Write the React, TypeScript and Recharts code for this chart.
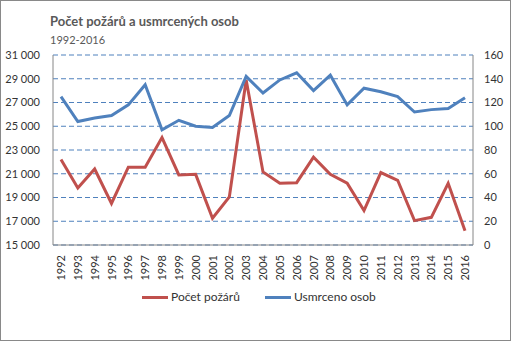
import React from 'react';
import { LineChart, Line, XAxis, YAxis, CartesianGrid, Legend } from 'recharts';

const years = ['1992','1993','1994','1995','1996','1997','1998','1999','2000','2001','2002','2003','2004','2005','2006','2007','2008','2009','2010','2011','2012','2013','2014','2015','2016'];
const pozary = [22200, 19800, 21400, 18500, 21550, 21550, 24050, 20900, 20950, 17250, 19050, 28900, 21150, 20200, 20250, 22400, 20950, 20200, 17900, 21100, 20450, 17050, 17330, 20200, 16200];
const usmrceno = [125, 104, 107, 109, 118, 135, 97, 105, 100, 99, 109, 142, 128, 139, 145, 130, 143, 118, 132, 129, 125, 112, 114, 115, 124];
const leftTicks = [15000, 17000, 19000, 21000, 23000, 25000, 27000, 29000, 31000];
const rightTicks = [0, 20, 40, 60, 80, 100, 120, 140, 160];
const seriesNames = ['Počet požárů', 'Usmrceno osob'];
const title = 'Počet požárů a usmrcených osob';
const subtitle = '1992-2016';

const data = years.map((y, i) => ({ year: y, pozary: pozary[i], usmrceno: usmrceno[i] }));

const RED = '#C0504D';
const BLUE = '#4F81BD';
const AXIS = '#868686';
const FONT = 'Lato, "Open Sans", sans-serif';

const fmt = (v: number) => String(v).replace(/\B(?=(\d{3})+(?!\d))/g, ' ');

const XTick = (props: any) => {
  const { x, y, payload } = props;
  const tx = x + 4;
  const ty = y + 2;
  return (
    <text x={tx} y={ty} transform={`rotate(-90, ${tx}, ${ty})`} textAnchor="end" fontSize={11} fill="#333" fontFamily={FONT}>
      {payload.value}
    </text>
  );
};

const LegendContent = () => (
  <div style={{ position: 'relative', width: 511, height: 20, fontFamily: FONT, fontSize: 12, color: '#333' }}>
    <div style={{ position: 'absolute', left: 142, top: 8, width: 26, height: 3, background: RED }} />
    <div style={{ position: 'absolute', left: 171, top: 1, lineHeight: '16px', whiteSpace: 'nowrap' }}>{seriesNames[0]}</div>
    <div style={{ position: 'absolute', left: 265, top: 8, width: 26, height: 3, background: BLUE }} />
    <div style={{ position: 'absolute', left: 294, top: 1, lineHeight: '16px', whiteSpace: 'nowrap' }}>{seriesNames[1]}</div>
  </div>
);

export default function App() {
  return (
    <div style={{ position: 'fixed', left: 0, top: 0, width: 511, height: 341, boxSizing: 'border-box', border: '1px solid #898989', background: '#fff', overflow: 'hidden' }}>
      <div style={{ position: 'absolute', left: -1, top: -1, width: 511, height: 341 }}>
        <LineChart width={511} height={341} data={data} margin={{ top: 55, right: 0, bottom: 0, left: 0 }}>
          <CartesianGrid yAxisId="left" vertical={false} horizontal={true} stroke={BLUE} strokeDasharray="5 3" strokeWidth={1} />
          <XAxis dataKey="year" interval={0} padding={{ left: 8, right: 8 }} height={96} tick={<XTick />} tickLine={false} axisLine={{ stroke: AXIS }} tickMargin={2} />
          <YAxis yAxisId="left" orientation="left" width={53} domain={[15000, 31000]} ticks={leftTicks} tickFormatter={fmt} tickLine={false} axisLine={{ stroke: AXIS }} tickMargin={7} tick={{ fontSize: 11, fill: '#333', fontFamily: FONT }} interval={0} />
          <YAxis yAxisId="right" orientation="right" width={38} domain={[0, 160]} ticks={rightTicks} tickLine={false} axisLine={{ stroke: AXIS }} tickMargin={5} tick={{ fontSize: 11, fill: '#333', fontFamily: FONT, textAnchor: 'start' }} interval={0} />
          <Line yAxisId="left" type="linear" dataKey="pozary" name={seriesNames[0]} stroke={RED} strokeWidth={3} dot={false} isAnimationActive={false} />
          <Line yAxisId="right" type="linear" dataKey="usmrceno" name={seriesNames[1]} stroke={BLUE} strokeWidth={3} dot={false} isAnimationActive={false} />
          <Legend layout="horizontal" verticalAlign="middle" align="center" content={<LegendContent />} wrapperStyle={{ position: 'absolute', left: 0, top: 288, width: 511, height: 20 }} />
        </LineChart>
      </div>
      <div style={{ position: 'absolute', left: 49, top: 14, fontFamily: FONT, fontSize: 13, fontWeight: 'bold', color: '#595959', lineHeight: '13px', whiteSpace: 'nowrap' }}>{title}</div>
      <div style={{ position: 'absolute', left: 49, top: 33, fontFamily: FONT, fontSize: 11, color: '#595959', lineHeight: '11px', whiteSpace: 'nowrap' }}>{subtitle}</div>
    </div>
  );
}
